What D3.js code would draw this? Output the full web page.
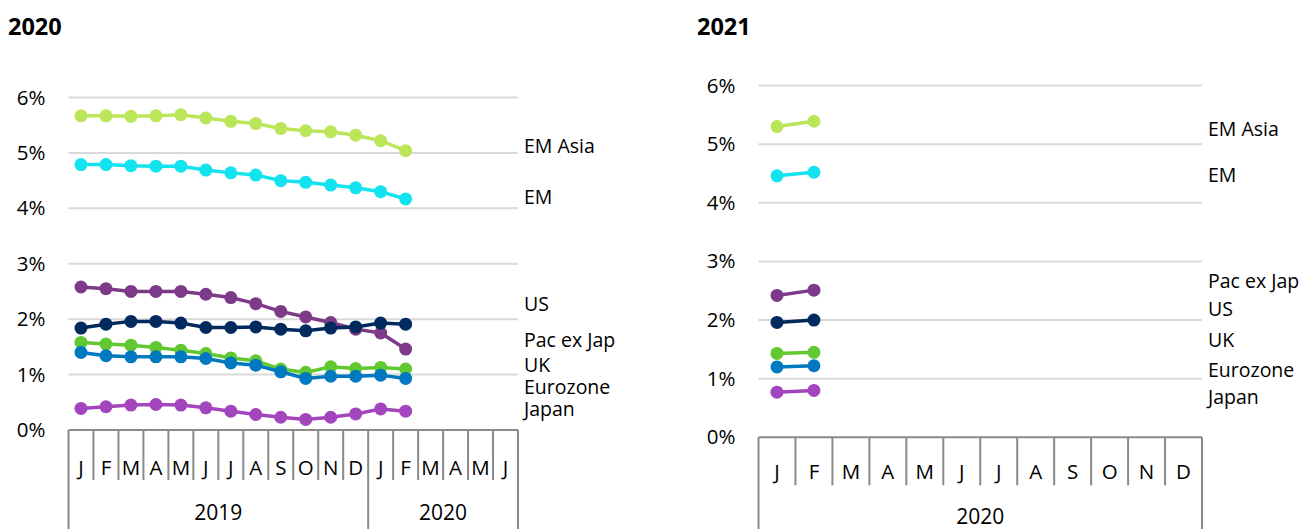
<!DOCTYPE html>
<html lang="en">

<head>
    <meta charset="utf-8">
    <script src="https://cdnjs.cloudflare.com/ajax/libs/d3/7.8.5/d3.min.js"></script>
    <style>
        body {
            margin: 0;
            background: #fff;
        }

        svg text {
            font-family: "Open Sans", "Noto Sans", sans-serif;
            fill: #000;
        }
    </style>
</head>

<body>
    <div id="my_dataviz"></div>

    <script>
        // tick labels
        const yTicks = [0, 1, 2, 3, 4, 5, 6];
        const monthLetters = ["J", "F", "M", "A", "M", "J", "J", "A", "S", "O", "N", "D"];

        // left panel (2020 forecasts), Jan 2019 - Jun 2020
        const leftMonths = d3.range(18);
        const leftYears = [{ year: "2019", from: 0, to: 12 }, { year: "2020", from: 12, to: 18 }];
        const emAsia20 = [5.67, 5.67, 5.66, 5.67, 5.69, 5.63, 5.57, 5.53, 5.44, 5.40, 5.38, 5.32, 5.22, 5.04];
        const em20 = [4.79, 4.79, 4.77, 4.76, 4.76, 4.69, 4.64, 4.60, 4.50, 4.47, 4.42, 4.37, 4.30, 4.17];
        const pacExJap20 = [2.58, 2.55, 2.50, 2.50, 2.50, 2.45, 2.39, 2.28, 2.14, 2.04, 1.94, 1.82, 1.75, 1.46];
        const us20 = [1.84, 1.91, 1.96, 1.96, 1.93, 1.85, 1.85, 1.86, 1.82, 1.79, 1.84, 1.86, 1.93, 1.91];
        const uk20 = [1.58, 1.55, 1.53, 1.49, 1.44, 1.38, 1.30, 1.25, 1.10, 1.04, 1.14, 1.11, 1.13, 1.10];
        const eurozone20 = [1.40, 1.34, 1.32, 1.32, 1.32, 1.29, 1.21, 1.17, 1.05, 0.93, 0.97, 0.97, 0.99, 0.93];
        const japan20 = [0.39, 0.42, 0.45, 0.46, 0.45, 0.40, 0.34, 0.28, 0.23, 0.19, 0.23, 0.29, 0.38, 0.34];

        // right panel (2021 forecasts), Jan - Dec 2020
        const rightMonths = d3.range(12);
        const rightYears = [{ year: "2020", from: 0, to: 12 }];
        const emAsia21 = [5.30, 5.39];
        const em21 = [4.46, 4.52];
        const pacExJap21 = [2.42, 2.51];
        const us21 = [1.96, 2.00];
        const uk21 = [1.43, 1.45];
        const eurozone21 = [1.20, 1.22];
        const japan21 = [0.77, 0.80];

        const seriesNames = ["EM Asia", "EM", "Pac ex Jap", "US", "UK", "Eurozone", "Japan"];
        const colors = ["#bce659", "#13e3ef", "#7d3a88", "#012a5e", "#62c832", "#0079c1", "#a346bd"];

        const W = 1304, H = 529;
        const svg = d3.select("#my_dataviz")
            .append("svg")
            .attr("width", W)
            .attr("height", H);

        function drawPanel(p) {
            const g = svg.append("g");

            const x = d3.scaleBand()
                .domain(p.months)
                .range([p.x0, p.x1])
                .padding(0);

            const y = d3.scaleLinear()
                .domain([0, 6])
                .range([p.y0, p.y6]);

            // title
            g.append("text")
                .attr("x", p.titleX)
                .attr("y", 35)
                .style("font-size", "23.5px")
                .style("font-weight", "bold")
                .text(p.title);

            // gridlines
            g.selectAll(".grid")
                .data(yTicks.filter(d => d > 0))
                .join("line")
                .attr("x1", p.x0)
                .attr("x2", p.x1)
                .attr("y1", d => y(d))
                .attr("y2", d => y(d))
                .attr("stroke", "#d9d9d9")
                .attr("stroke-width", 2);

            // y axis labels
            const yAxis = g.append("g")
                .attr("transform", `translate(${p.x0},0)`)
                .call(d3.axisLeft(y).tickValues(yTicks).tickFormat(d => d + "%").tickSize(0).tickPadding(23));
            yAxis.select(".domain").remove();
            yAxis.selectAll("text")
                .style("font-size", "20.5px")
                .attr("fill", "#000");

            // category axis: box and separators
            const axisColor = "#8a8a8a";
            const bounds = p.months.map(m => x(m)).concat([p.x1]);
            const yearEdges = new Set(p.years.map(d => d.from).concat(p.years.map(d => d.to)));

            g.append("line")
                .attr("x1", p.x0).attr("x2", p.x1)
                .attr("y1", y(0)).attr("y2", y(0))
                .attr("stroke", axisColor).attr("stroke-width", 2);

            g.selectAll(".sep")
                .data(bounds)
                .join("line")
                .attr("x1", d => d).attr("x2", d => d)
                .attr("y1", y(0))
                .attr("y2", (d, i) => yearEdges.has(i) ? H : y(0) + p.tickLen)
                .attr("stroke", axisColor).attr("stroke-width", 2);

            g.selectAll(".month")
                .data(p.months)
                .join("text")
                .attr("x", d => x(d) + x.bandwidth() / 2)
                .attr("y", y(0) + p.monthDy)
                .attr("text-anchor", "middle")
                .attr("dominant-baseline", "central")
                .style("font-size", "20.5px")
                .text(d => monthLetters[d % 12]);

            g.selectAll(".year")
                .data(p.years)
                .join("text")
                .attr("x", d => (bounds[d.from] + bounds[d.to]) / 2)
                .attr("y", y(0) + p.yearDy)
                .attr("text-anchor", "middle")
                .attr("dominant-baseline", "central")
                .style("font-size", "21px")
                .text(d => d.year);

            // lines and points
            const line = d3.line()
                .x((d, i) => x(p.months[i]) + x.bandwidth() / 2)
                .y(d => y(d));

            p.series.forEach((vals, k) => {
                g.append("path")
                    .datum(vals)
                    .attr("fill", "none")
                    .attr("stroke", colors[k])
                    .attr("stroke-width", 3.5)
                    .attr("d", line);

                g.selectAll(".pt" + k)
                    .data(vals)
                    .join("circle")
                    .attr("cx", (d, i) => x(p.months[i]) + x.bandwidth() / 2)
                    .attr("cy", d => y(d))
                    .attr("r", 6.5)
                    .attr("fill", colors[k]);
            });

            // series labels
            g.selectAll(".lbl")
                .data(seriesNames)
                .join("text")
                .attr("x", p.labelX)
                .attr("y", (d, i) => y(p.labelAt[i]))
                .attr("dominant-baseline", "central")
                .style("font-size", "19.5px")
                .text(d => d);
        }

        drawPanel({
            title: "2020", titleX: 8,
            x0: 68.5, x1: 518, y0: 430, y6: 97.5,
            months: leftMonths, years: leftYears,
            tickLen: 50, monthDy: 37, yearDy: 82,
            series: [emAsia20, em20, pacExJap20, us20, uk20, eurozone20, japan20],
            labelX: 524,
            labelAt: [5.14, 4.21, 1.64, 2.29, 1.19, 0.79, 0.38]
        });

        drawPanel({
            title: "2021", titleX: 697,
            x0: 758.5, x1: 1202, y0: 437.3, y6: 85.5,
            months: rightMonths, years: rightYears,
            tickLen: 48, monthDy: 34, yearDy: 79,
            series: [emAsia21, em21, pacExJap21, us21, uk21, eurozone21, japan21],
            labelX: 1208,
            labelAt: [5.26, 4.49, 2.67, 2.19, 1.67, 1.16, 0.69]
        });
    </script>

</body>

</html>
